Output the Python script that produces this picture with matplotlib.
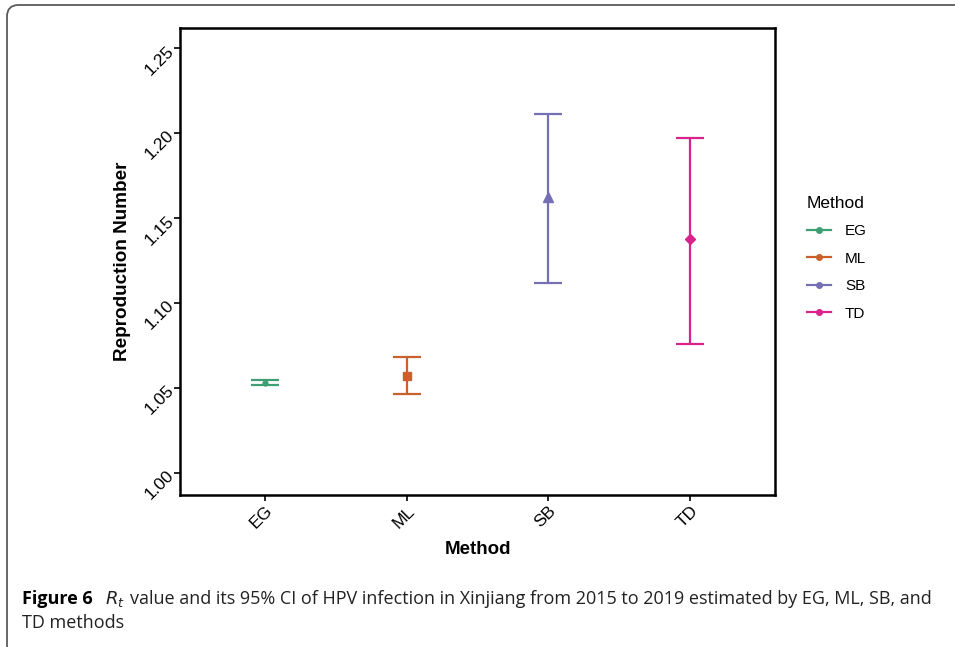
import matplotlib
matplotlib.use("Agg")
import matplotlib.pyplot as plt
from matplotlib.lines import Line2D
from matplotlib.patches import FancyBboxPatch

methods = ["EG", "ML", "SB", "TD"]
rt = [1.0532, 1.0572, 1.1625, 1.1380]
lower = [1.0518, 1.0465, 1.1119, 1.0759]
upper = [1.0547, 1.0684, 1.2112, 1.1970]
colors = ["#3f9e74", "#c8612c", "#7570b3", "#d9228a"]
markers = ["o", "s", "^", "D"]
marker_sizes = [3.5, 5.5, 7.5, 5]
yticks = [1.00, 1.05, 1.10, 1.15, 1.20, 1.25]

W, H = 955, 647
fig = plt.figure(figsize=(W / 100, H / 100), dpi=100)
plt.rcParams['font.family'] = ['Liberation Sans', 'DejaVu Sans']

# outer rounded frame
frame = FancyBboxPatch((7 / W, -20 / H), 1.2, (H - 5 + 20) / H,
                       boxstyle="round,pad=0,rounding_size=0.012",
                       transform=fig.transFigure, fill=False,
                       edgecolor="#5a5a5a", linewidth=1.3, mutation_aspect=W / H)
fig.add_artist(frame)

ax = fig.add_axes([180 / W, (H - 495) / H, (775 - 180) / W, (495 - 28) / H])
x = list(range(len(methods)))
for i in x:
    ax.errorbar([i], [rt[i]], yerr=[[rt[i] - lower[i]], [upper[i] - rt[i]]],
                fmt='none', ecolor=colors[i], elinewidth=1.6, capsize=10, capthick=1.6)
    ax.plot([i], [rt[i]], marker=markers[i], color=colors[i], markersize=marker_sizes[i],
            linestyle='none')

ax.set_xlim(-0.6, 3.6)
ax.set_ylim(0.987, 1.262)
ax.set_xticks(x)
ax.set_xticklabels(methods)
ax.set_yticks(yticks)
ax.set_yticklabels([f"{v:.2f}" for v in yticks])
for s in ax.spines.values():
    s.set_linewidth(1.8)
    s.set_color("black")
ax.tick_params(axis='both', length=4, width=1.2, colors='black', labelsize=12.5, pad=2)
for lab in ax.get_yticklabels():
    lab.set_rotation(45)
    lab.set_rotation_mode('anchor')
    lab.set_ha('right')
    lab.set_va('center')
for lab in ax.get_xticklabels():
    lab.set_rotation(45)
    lab.set_rotation_mode('anchor')
    lab.set_ha('right')
    lab.set_va('top')
ax.set_xlabel("Method", fontsize=13.5, fontweight='bold', labelpad=7)
ax.set_ylabel("Reproduction Number", fontsize=13.6, fontweight='bold', labelpad=8)

handles = [Line2D([0], [0], color=c, marker='o', markersize=4, linewidth=1.6) for c in colors]
leg = fig.legend(handles, methods, title="Method", loc='upper left',
                 bbox_to_anchor=(793 / W, 1 - 182 / H), frameon=False,
                 fontsize=11, title_fontsize=12.5, handlelength=1.6,
                 labelspacing=0.88, handletextpad=0.9, alignment='left')

# caption
renderer = fig.canvas.get_renderer()
cap_font = ['Open Sans', 'DejaVu Sans']
y1 = 1 - 599 / H
y2 = 1 - 623 / H
fs = 13.0
t1 = fig.text(22 / W, y1, "Figure 6", fontsize=fs, fontweight='bold', family=cap_font, va='center')
bb = t1.get_window_extent(renderer)
t2 = fig.text(bb.x1 / W + 12 / W, y1, r"$R_t$", fontsize=fs, family=cap_font, va='center',
              color='#222222')
bb2 = t2.get_window_extent(renderer)
fig.text(bb2.x1 / W + 5 / W, y1,
         "value and its 95% CI of HPV infection in Xinjiang from 2015 to 2019 estimated by EG, ML, SB, and",
         fontsize=fs, family=cap_font, va='center', color='#222222')
fig.text(22 / W, y2, "TD methods", fontsize=fs, family=cap_font, va='center', color='#222222')

fig.savefig("out.png", dpi=100)
